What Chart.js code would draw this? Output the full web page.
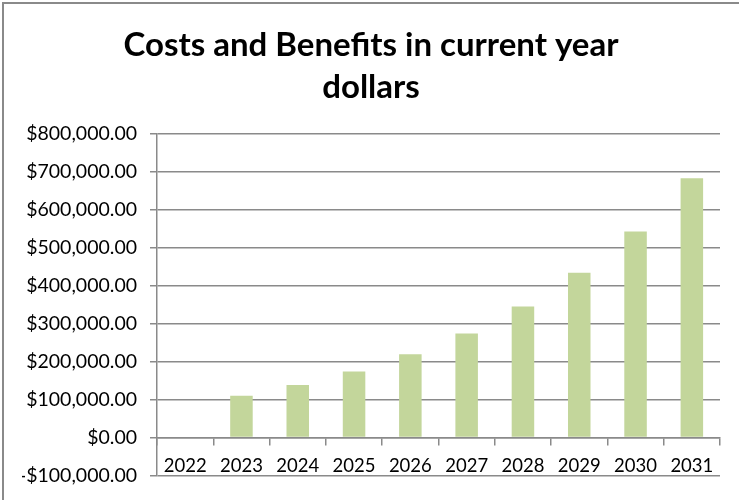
<!DOCTYPE html>
<html>
<head>
<meta charset="utf-8">
<script src="https://cdn.jsdelivr.net/npm/chart.js@4"></script>
<style>
  html, body { margin: 0; padding: 0; background: #fff; }
  #wrap { position: relative; width: 739px; height: 500px; overflow: hidden; }
  #frame { position: absolute; left: 2px; top: 2px; width: 800px; height: 600px;
           border-top: 2px solid #8a8a8a; border-left: 2px solid #8a8a8a; pointer-events: none; }
</style>
</head>
<body>
<div id="wrap">
  <canvas id="grafico" width="739" height="500"></canvas>
  <div id="frame"></div>
</div>
<script>
// Datos
const years = ['2022', '2023', '2024', '2025', '2026', '2027', '2028', '2029', '2030', '2031'];
const values = [0, 110000, 138000, 173500, 219000, 274000, 345000, 434000, 543000, 683000];
const titleLines = ['Costs and Benefits in current year', 'dollars'];

const gridColor = '#8a8a8a';
const fontFamily = 'Lato, "Open Sans", sans-serif';

function formatDollars(v) {
  const s = Math.abs(v).toLocaleString('en-US', { minimumFractionDigits: 2, maximumFractionDigits: 2 });
  return (v < 0 ? '-$' : '$') + s;
}

const ctx = document.getElementById('grafico').getContext('2d');
new Chart(ctx, {
  type: 'bar',
  data: {
    labels: years,
    datasets: [{
      data: values,
      backgroundColor: '#c3d69b',
      borderWidth: 0,
      barPercentage: 0.4,
      categoryPercentage: 1.0
    }]
  },
  options: {
    responsive: false,
    animation: false,
    layout: { padding: { left: 22, right: 19, top: 24, bottom: 23 } },
    plugins: {
      legend: { display: false },
      tooltip: { enabled: false },
      title: {
        display: true,
        text: titleLines,
        color: '#000',
        font: { family: fontFamily, size: 33, weight: 'bold', lineHeight: '42px' },
        padding: { top: 0, bottom: 26 }
      }
    },
    scales: {
      x: {
        position: { y: 0 },
        afterFit: (scale) => { scale.height = 0; },
        grid: { drawOnChartArea: false, drawTicks: true, tickLength: 7, color: gridColor, lineWidth: 1.5 },
        border: { display: true, color: gridColor, width: 1.5 },
        ticks: { color: '#000', padding: 11, font: { family: fontFamily, size: 18.5 }, maxRotation: 0 }
      },
      y: {
        min: -100000,
        max: 800000,
        afterFit: (scale) => { scale.width = 135; },
        grid: { color: gridColor, lineWidth: 1.5, tickLength: 7 },
        border: { display: true, color: gridColor, width: 1.5 },
        ticks: {
          stepSize: 100000,
          color: '#000',
          padding: 13,
          font: { family: fontFamily, size: 19.5 },
          callback: (v) => formatDollars(v)
        }
      }
    }
  }
});
</script>
</body>
</html>
